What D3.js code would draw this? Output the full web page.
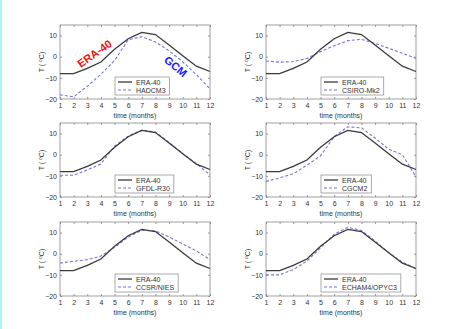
<!DOCTYPE html>
<html>
<head>
<meta charset="utf-8">
<script src="https://cdn.jsdelivr.net/npm/d3@7"></script>
<style>
  body { margin: 0; background: #fff; }
  svg { display: block; font-family: 'Liberation Sans', Arial, sans-serif; }
</style>
</head>
<body>
<svg id="chart" width="454" height="329"></svg>
<script>
// monthly temperature cycles
const months = [1, 2, 3, 4, 5, 6, 7, 8, 9, 10, 11, 12];
const era40 = [-8, -8, -5.5, -2.5, 3.5, 8.5, 11.5, 10.5, 5.5, 0.5, -4.5, -7];
const hadcm3 = [-18, -19, -14, -8.3, -1.8, 8, 9.5, 7, 2.8, -2.4, -8.5, -15.2];
const csiroMk2 = [-2, -2.6, -2.3, -0.8, 2.4, 5.2, 7.6, 8.2, 6.3, 4, 1.6, -0.8];
const gfdlR30 = [-9.7, -9.7, -7.2, -4.3, 4, 8.8, 11.7, 10.7, 5.8, 0.5, -4.2, -9.5];
const cgcm2 = [-12.6, -11, -9, -5, -0.5, 8.6, 13.2, 12.7, 7.9, 2.6, 0, -10.5];
const ccsrNies = [-4.4, -3.6, -2.8, -1.1, 3, 7.9, 11.1, 10.8, 7.9, 4.6, 1.3, -2.8];
const echam4 = [-10, -10, -7.5, -3.5, 2.8, 9.2, 12.5, 11, 6, 0.5, -4, -7];

const modelNames = ['HADCM3', 'CSIRO-Mk2', 'GFDL-R30', 'CGCM2', 'CCSR/NIES', 'ECHAM4/OPYC3'];
const modelValues = [hadcm3, csiroMk2, gfdlR30, cgcm2, ccsrNies, echam4];
const yTicks = [-20, -10, 0, 10];

const colLeft = [60, 266];
const rowTop = [25, 123, 222];
const plotW = 150;
const plotH = 74;

const svg = d3.select('#chart');

svg.append('rect')
    .attr('x', 0).attr('y', 0)
    .attr('width', 2).attr('height', 329)
    .attr('fill', '#aef0fc');

const line = (x, y) => d3.line()
    .x((d, i) => x(months[i]))
    .y(d => y(d));

modelNames.forEach((name, k) => {
    const left = colLeft[k % 2];
    const top = rowTop[Math.floor(k / 2)];

    const x = d3.scaleLinear().domain([1, 12]).range([left, left + plotW]);
    const y = d3.scaleLinear().domain([-20, 15]).range([top + plotH, top]);

    const g = svg.append('g').attr('class', 'panel');

    g.append('rect')
        .attr('x', left).attr('y', top)
        .attr('width', plotW).attr('height', plotH)
        .attr('fill', '#fff');

    // axes with inward ticks, MATLAB style
    const axisStyle = a => a
        .call(s => s.select('.domain').remove())
        .call(s => s.selectAll('line').attr('stroke', '#999'))
        .call(s => s.selectAll('text').attr('fill', '#333').style('font-size', '7px'));

    g.append('g')
        .attr('transform', `translate(0,${top + plotH})`)
        .call(d3.axisBottom(x).tickValues(months).tickFormat(d3.format('d')).tickSizeInner(-2).tickPadding(4))
        .call(axisStyle);
    g.append('g')
        .attr('transform', `translate(0,${top})`)
        .call(d3.axisTop(x).tickValues(months).tickFormat('').tickSizeInner(-2))
        .call(axisStyle);
    g.append('g')
        .attr('transform', `translate(${left},0)`)
        .call(d3.axisLeft(y).tickValues(yTicks).tickFormat(d3.format('d')).tickSizeInner(-2).tickPadding(3))
        .call(axisStyle);
    g.append('g')
        .attr('transform', `translate(${left + plotW},0)`)
        .call(d3.axisRight(y).tickValues(yTicks).tickFormat('').tickSizeInner(-2))
        .call(axisStyle);

    g.append('rect')
        .attr('x', left).attr('y', top)
        .attr('width', plotW).attr('height', plotH)
        .attr('fill', 'none')
        .attr('stroke', '#888')
        .attr('stroke-width', 0.8);

    g.append('path')
        .datum(modelValues[k])
        .attr('d', line(x, y))
        .attr('fill', 'none')
        .attr('stroke', '#7474e0')
        .attr('stroke-width', 1.1)
        .attr('stroke-dasharray', '3,2');

    g.append('path')
        .datum(era40)
        .attr('d', line(x, y))
        .attr('fill', 'none')
        .attr('stroke', '#3a3a3a')
        .attr('stroke-width', 1.3);

    // axis labels
    g.append('text')
        .attr('x', left + plotW / 2)
        .attr('y', top + plotH + 19)
        .attr('text-anchor', 'middle')
        .attr('fill', '#333')
        .style('font-size', '7px')
        .text('time (months)');

    const yl = g.append('text')
        .attr('transform', `translate(${left - 16},${top + plotH / 2}) rotate(-90)`)
        .attr('text-anchor', 'middle')
        .attr('fill', '#333')
        .style('font-size', '7px');
    yl.append('tspan').text('T ( ');
    yl.append('tspan').attr('dy', -2.5).style('font-size', '5px').text('o');
    yl.append('tspan').attr('dy', 2.5).text('C)');

    // legend
    const lg = g.append('g')
        .attr('transform', `translate(${left + 55},${top + plotH - 22})`);
    const box = lg.append('rect')
        .attr('fill', '#fff')
        .attr('stroke', '#888')
        .attr('stroke-width', 0.7);
    const entries = [
        { label: 'ERA-40', stroke: '#3a3a3a', dash: null, w: 1.3 },
        { label: name, stroke: '#7474e0', dash: '3,2', w: 1.1 }
    ];
    let maxW = 0;
    entries.forEach((e, i) => {
        lg.append('line')
            .attr('x1', 3).attr('x2', 17)
            .attr('y1', 5 + i * 8).attr('y2', 5 + i * 8)
            .attr('stroke', e.stroke)
            .attr('stroke-width', e.w)
            .attr('stroke-dasharray', e.dash);
        const t = lg.append('text')
            .attr('x', 21).attr('y', 7.5 + i * 8)
            .attr('fill', '#333')
            .style('font-size', '7px')
            .text(e.label);
        maxW = Math.max(maxW, t.node().getComputedTextLength());
    });
    box.attr('width', maxW + 25).attr('height', 18);

    if (k === 0) {
        g.append('text')
            .attr('transform', `translate(${x(3.7)},${y(0)}) rotate(-35)`)
            .attr('text-anchor', 'middle')
            .attr('fill', '#f01010')
            .style('font-size', '11px')
            .style('font-weight', 'bold')
            .text('ERA-40');
        g.append('text')
            .attr('transform', `translate(${x(9.3)},${y(-6)}) rotate(40)`)
            .attr('text-anchor', 'middle')
            .attr('fill', '#1a1aff')
            .style('font-size', '11px')
            .style('font-weight', 'bold')
            .text('GCM');
    }
});
</script>
</body>
</html>
